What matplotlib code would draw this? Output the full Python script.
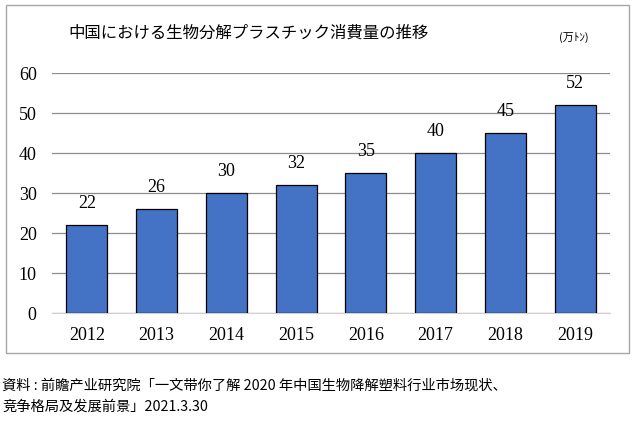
import matplotlib
matplotlib.use("Agg")
import matplotlib.pyplot as plt
from matplotlib.patches import Rectangle

years = ["2012", "2013", "2014", "2015", "2016", "2017", "2018", "2019"]
consumption = [22, 26, 30, 32, 35, 40, 45, 52]
yticks = [0, 10, 20, 30, 40, 50, 60]

title = "中国における生物分解プラスチック消費量の推移"
unit = "(万ﾄﾝ)"
source = ("資料 : 前瞻产业研究院「一文带你了解 2020 年中国生物降解塑料行业市场现状、\n"
          "竞争格局及发展前景」2021.3.30")

serif = ["Liberation Serif", "DejaVu Serif"]
cjk = ["Noto Sans CJK JP", "DejaVu Sans"]

fig = plt.figure(figsize=(6.37, 4.25), dpi=100)
W, H = 637, 425

# outer frame
fig.patches.append(Rectangle((6 / W, 1 - 353 / H), 623 / W, 348 / H, transform=fig.transFigure,
                             fill=False, edgecolor="#a6a6a6", linewidth=1.0))

ax = fig.add_axes([52 / W, 1 - 313 / H, 558 / W, 240 / H])
x = range(len(years))
ax.bar(x, consumption, width=0.59, color="#4472C4", edgecolor="black", linewidth=0.9, zorder=3)
for xi, v in zip(x, consumption):
    ax.text(xi, v + 3.2, str(v), ha="center", va="bottom", fontsize=13, family=serif)

ax.set_xlim(-0.5, len(years) - 0.5)
ax.set_ylim(0, 60)
ax.set_yticks(yticks)
ax.set_yticklabels([str(t) for t in yticks], family=serif, fontsize=13)
ax.set_xticks(list(x))
ax.set_xticklabels(years, family=serif, fontsize=13)
ax.yaxis.grid(True, color="#8c8c8c", linewidth=0.9, zorder=0)
for s in ["top", "right", "left"]:
    ax.spines[s].set_visible(False)
ax.spines["bottom"].set_color("#d0d0d0")
ax.tick_params(axis="both", length=0)
ax.tick_params(axis="y", pad=11)
ax.tick_params(axis="x", pad=10)

fig.text(249 / W, 1 - 33 / H, title, ha="center", va="center", fontsize=11.8, family=cjk)
fig.text(574 / W, 1 - 38 / H, unit, ha="center", va="center", fontsize=8, family=cjk)
fig.text(2 / W, 1 - 396 / H, source, ha="left", va="center", fontsize=10.3, family=cjk,
         linespacing=1.7)

fig.savefig("out.png", dpi=100)
